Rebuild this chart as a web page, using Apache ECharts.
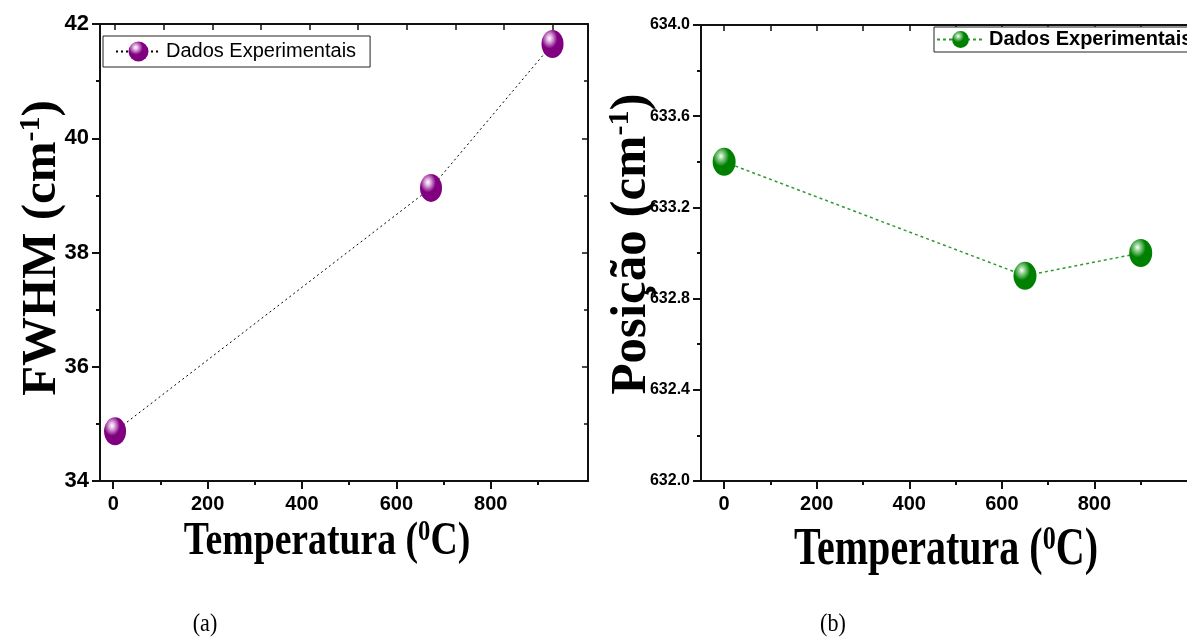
<!DOCTYPE html>
<html>
<head>
<meta charset="utf-8">
<script src="https://cdn.jsdelivr.net/npm/echarts@6/dist/echarts.min.js"></script>
<style>
html,body{margin:0;padding:0;background:#fff;}
#chart{width:1187px;height:639px;}
</style>
</head>
<body>
<div id="chart"></div>
<script>
// ---- data ----
const TEMPERATURA = [0, 650, 900];
const FWHM = [34.87, 39.13, 41.65];
const POSICAO = [633.40, 632.90, 633.00];
const X_MAJOR_TICKS = [0, 200, 400, 600, 800];
const X_MINOR_TICKS = [100, 300, 500, 700, 900];
const X_ALL_TICKS = [0, 100, 200, 300, 400, 500, 600, 700, 800, 900];
const LEGEND_LABEL = 'Dados Experimentais';
const SERIES_A = 'Dados Experimentais';
const SERIES_B = 'Dados Experimentais ';
const Y_TITLE_A = ['FWHM (cm', '-1', ')'];
const Y_TITLE_B = ['Posição (cm', '-1', ')'];
const X_TITLE = ['Temperatura (', '0', 'C)'];
const CAPTIONS = ['(a)', '(b)'];

const SANS = "'Liberation Sans', Arial, sans-serif";
const SERIF = "'Liberation Serif', 'Times New Roman', serif";
const AX = '#111';

function ball(base, mid) {
  return {
    type: 'radial', x: 0.36, y: 0.3, r: 0.75,
    colorStops: [
      {offset: 0, color: '#ffffff'},
      {offset: 0.16, color: mid},
      {offset: 0.48, color: base},
      {offset: 1, color: base}
    ]
  };
}

function xMain(grid, min, max) {
  return {
    type: 'value', gridIndex: grid, position: 'bottom', min: min, max: max,
    axisLine: {show: true, onZero: false, lineStyle: {color: AX, width: 2}},
    axisTick: {show: true, inside: false, length: 8, customValues: X_MAJOR_TICKS, lineStyle: {color: AX, width: 2}},
    axisLabel: {show: true, customValues: X_MAJOR_TICKS, margin: 13, color: '#000', fontFamily: SANS, fontWeight: 'bold', fontSize: 20},
    splitLine: {show: false}
  };
}
function xMinor(grid, min, max) {
  return {
    type: 'value', gridIndex: grid, position: 'bottom', min: min, max: max,
    axisLine: {show: false, onZero: false},
    axisTick: {show: true, inside: false, length: 4, customValues: X_MINOR_TICKS, lineStyle: {color: AX, width: 2}},
    axisLabel: {show: false},
    splitLine: {show: false}
  };
}
function xTop(grid, min, max) {
  return {
    type: 'value', gridIndex: grid, position: 'top', min: min, max: max,
    axisLine: {show: true, onZero: false, lineStyle: {color: AX, width: 2}},
    axisTick: {show: true, inside: true, length: 6, customValues: X_ALL_TICKS, lineStyle: {color: AX, width: 1.5}},
    axisLabel: {show: false},
    splitLine: {show: false}
  };
}

const option = {
  backgroundColor: '#fff',
  animation: false,
  grid: [
    {left: 100, top: 24, width: 488, height: 457},
    {left: 701, top: 25, width: 518, height: 456}
  ],
  xAxis: [
    xMain(0, -28, 1006),
    xMinor(0, -28, 1006),
    xTop(0, -31, 973),
    xMain(1, -50, 1000),
    xMinor(1, -50, 1000),
    xTop(1, -50, 1000)
  ],
  yAxis: [
    {
      type: 'value', gridIndex: 0, position: 'left', min: 34, max: 42, interval: 2,
      axisLine: {show: true, onZero: false, lineStyle: {color: AX, width: 2}},
      axisTick: {show: true, inside: false, length: 8, lineStyle: {color: AX, width: 2}},
      minorTick: {show: true, splitNumber: 2, length: 4, lineStyle: {color: AX, width: 2}},
      axisLabel: {margin: 11, color: '#000', fontFamily: SANS, fontWeight: 'bold', fontSize: 22},
      splitLine: {show: false}
    },
    {
      type: 'value', gridIndex: 0, position: 'right', min: 34, max: 42, interval: 2,
      axisLine: {show: true, onZero: false, lineStyle: {color: AX, width: 2}},
      axisTick: {show: true, inside: true, length: 6, lineStyle: {color: AX, width: 1.5}},
      minorTick: {show: true, splitNumber: 2, length: 4, lineStyle: {color: AX, width: 1.5}},
      axisLabel: {show: false},
      splitLine: {show: false}
    },
    {
      type: 'value', gridIndex: 1, position: 'left', min: 632, max: 634, interval: 0.4,
      axisLine: {show: true, onZero: false, lineStyle: {color: AX, width: 2}},
      axisTick: {show: true, inside: false, length: 8, lineStyle: {color: AX, width: 2}},
      minorTick: {show: true, splitNumber: 2, length: 4, lineStyle: {color: AX, width: 2}},
      axisLabel: {margin: 11, color: '#000', fontFamily: SANS, fontWeight: 'bold', fontSize: 16,
        formatter: v => v.toFixed(1)},
      splitLine: {show: false}
    }
  ],
  legend: [
    {
      data: [SERIES_A], left: 103, top: 36, orient: 'horizontal',
      formatter: () => LEGEND_LABEL,
      itemWidth: 45, itemHeight: 25,
      padding: [3, 14, 3, 12],
      borderColor: '#222', borderWidth: 1, backgroundColor: '#fff',
      textStyle: {color: '#000', fontFamily: SANS, fontSize: 20, lineHeight: 25}
    },
    {
      data: [SERIES_B], left: 934, top: 27, orient: 'horizontal',
      formatter: () => LEGEND_LABEL,
      itemWidth: 47, itemHeight: 21,
      padding: [2, 30, 2, 2],
      borderColor: '#222', borderWidth: 1, backgroundColor: '#fff',
      textStyle: {color: '#000', fontFamily: SANS, fontWeight: 'bold', fontSize: 20, lineHeight: 21}
    }
  ],
  series: [
    {
      name: SERIES_A, type: 'line', xAxisIndex: 2, yAxisIndex: 0,
      data: TEMPERATURA.map((t, i) => [t, FWHM[i]]),
      symbol: 'circle', symbolSize: [22, 28],
      lineStyle: {color: '#000', width: 1, type: [2, 3]},
      itemStyle: {color: ball('#800080', '#e2b3e2'), borderWidth: 0},
      z: 3
    },
    {
      name: SERIES_B, type: 'line', xAxisIndex: 3, yAxisIndex: 2,
      data: TEMPERATURA.map((t, i) => [t, POSICAO[i]]),
      symbol: 'circle', symbolSize: [23, 28],
      lineStyle: {color: '#2f9a2f', width: 1.5, type: [3, 3]},
      itemStyle: {color: ball('#008000', '#9ad69a'), borderWidth: 0},
      z: 3
    }
  ],
  graphic: [
    {
      type: 'text', x: 42, y: 248, rotation: Math.PI / 2,
      style: {
        text: '{t|' + Y_TITLE_A[0] + '}{s|' + Y_TITLE_A[1] + '}{t|' + Y_TITLE_A[2] + '}',
        textAlign: 'center', textVerticalAlign: 'middle',
        rich: {
          t: {fontFamily: SERIF, fontWeight: 'bold', fontSize: 49, fill: '#000', lineHeight: 52},
          s: {fontFamily: SERIF, fontWeight: 'bold', fontSize: 30, fill: '#000', verticalAlign: 'top', lineHeight: 30}
        }
      }
    },
    {
      type: 'text', x: 632, y: 244, rotation: Math.PI / 2,
      style: {
        text: '{t|' + Y_TITLE_B[0] + '}{s|' + Y_TITLE_B[1] + '}{t|' + Y_TITLE_B[2] + '}',
        textAlign: 'center', textVerticalAlign: 'middle',
        rich: {
          t: {fontFamily: SERIF, fontWeight: 'bold', fontSize: 51, fill: '#000', lineHeight: 54},
          s: {fontFamily: SERIF, fontWeight: 'bold', fontSize: 30, fill: '#000', verticalAlign: 'top', lineHeight: 30}
        }
      }
    },
    {
      type: 'text', x: 327, y: 542, scaleX: 0.82,
      style: {
        text: '{t|' + X_TITLE[0] + '}{s|' + X_TITLE[1] + '}{t|' + X_TITLE[2] + '}',
        textAlign: 'center', textVerticalAlign: 'middle',
        rich: {
          t: {fontFamily: SERIF, fontWeight: 'bold', fontSize: 46, fill: '#000', lineHeight: 50},
          s: {fontFamily: SERIF, fontWeight: 'bold', fontSize: 30, fill: '#000', verticalAlign: 'top', lineHeight: 30}
        }
      }
    },
    {
      type: 'text', x: 946, y: 551, scaleX: 0.77,
      style: {
        text: '{t|' + X_TITLE[0] + '}{s|' + X_TITLE[1] + '}{t|' + X_TITLE[2] + '}',
        textAlign: 'center', textVerticalAlign: 'middle',
        rich: {
          t: {fontFamily: SERIF, fontWeight: 'bold', fontSize: 52, fill: '#000', lineHeight: 56},
          s: {fontFamily: SERIF, fontWeight: 'bold', fontSize: 34, fill: '#000', verticalAlign: 'top', lineHeight: 34}
        }
      }
    },
    {
      type: 'text', x: 205, y: 624, scaleX: 0.85,
      style: {text: CAPTIONS[0], textAlign: 'center', textVerticalAlign: 'middle',
        font: '26px ' + SERIF, fill: '#000'}
    },
    {
      type: 'text', x: 833, y: 624, scaleX: 0.85,
      style: {text: CAPTIONS[1], textAlign: 'center', textVerticalAlign: 'middle',
        font: '26px ' + SERIF, fill: '#000'}
    }
  ]
};

const chart = echarts.init(document.getElementById('chart'), null, {renderer: 'canvas'});
chart.setOption(option);
</script>
</body>
</html>
